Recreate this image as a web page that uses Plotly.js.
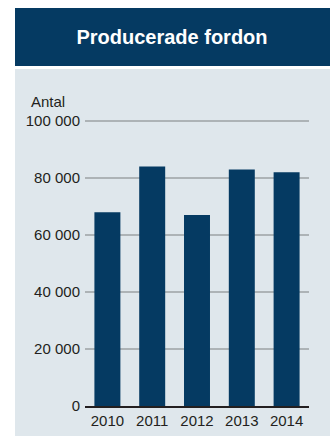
<!DOCTYPE html>
<html>
<head>
<meta charset="utf-8">
<script src="https://cdn.plot.ly/plotly-3.0.1.min.js"></script>
<style>html,body{margin:0;padding:0;background:#fff;}#chart{width:331px;height:436px;}</style>
</head>
<body>
<div id="chart"></div>
<script>
var years = ["2010", "2011", "2012", "2013", "2014"];
var vehicles = [68000, 84000, 67000, 83000, 82000];
var yTickVals = [0, 20000, 40000, 60000, 80000, 100000];
var yTickText = ["0", "20 000", "40 000", "60 000", "80 000", "100 000"];
var chartTitle = "Producerade fordon";
var yUnit = "Antal";

var navy = "#053a62";
var panel = "#dfe7ec";
var textCol = "#231f20";

var W = 331, H = 436;
var mL = 85, mR = 22, mT = 118, mB = 30;
var pw = W - mL - mR, ph = H - mT - mB;
var yMax = 100000 * ph / 285;
function px(x) { return (x - mL) / pw; }
function py(y) { return (H - mB - y) / ph; }

var trace = {
  type: "bar",
  x: years,
  y: vehicles,
  marker: { color: navy, line: { width: 0 } },
  hoverinfo: "none"
};

var layout = {
  width: W, height: H,
  margin: { l: mL, r: mR, t: mT, b: mB, pad: 0 },
  paper_bgcolor: "#ffffff",
  plot_bgcolor: panel,
  showlegend: false,
  bargap: 0.42,
  font: { family: "Liberation Sans, Arial, sans-serif", size: 15, color: textCol },
  title: {
    text: "<b>" + chartTitle + "</b>",
    font: { family: "Liberation Sans Narrow, Arial Narrow, Liberation Sans, sans-serif", size: 20, color: "#ffffff" },
    x: 172 / W, xref: "container", xanchor: "center",
    y: 1 - 37 / H, yref: "container", yanchor: "middle"
  },
  xaxis: {
    type: "category",
    range: [-0.5, 4.5],
    showgrid: false,
    showline: true,
    linecolor: textCol,
    linewidth: 1.5,
    ticks: "",
    tickfont: { size: 15, color: textCol },
    fixedrange: true
  },
  yaxis: {
    range: [0, yMax],
    tickvals: yTickVals,
    ticktext: yTickText,
    showgrid: true,
    gridcolor: "#adb3b6",
    gridwidth: 1.2,
    zeroline: false,
    showline: false,
    ticks: "",
    ticklabelstandoff: 4,
    tickfont: { size: 15, color: textCol },
    fixedrange: true
  },
  shapes: [
    { type: "rect", xref: "paper", yref: "paper", layer: "below",
      x0: px(15), x1: px(330), y0: py(436), y1: py(69),
      fillcolor: panel, line: { width: 0 } },
    { type: "rect", xref: "paper", yref: "paper", layer: "below",
      x0: px(15), x1: px(330), y0: py(66), y1: py(8),
      fillcolor: navy, line: { width: 0 } }
  ],
  annotations: [
    { text: yUnit, xref: "paper", yref: "paper", x: px(29), y: py(101),
      xanchor: "left", yanchor: "middle", showarrow: false,
      font: { size: 15, color: textCol } }
  ]
};

Plotly.newPlot("chart", [trace], layout, { displayModeBar: false, staticPlot: true });
</script>
</body>
</html>
